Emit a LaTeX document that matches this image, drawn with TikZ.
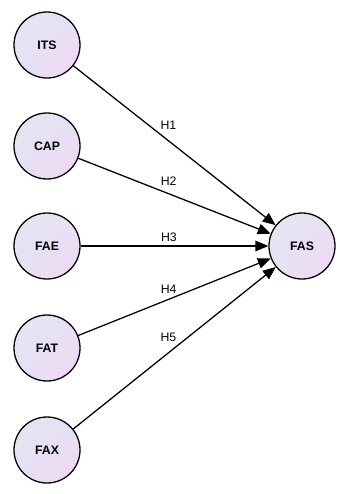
\documentclass[tikz,border=0pt]{standalone}
\usepackage{fontspec}
\setmainfont{Liberation Sans}
\usepackage{tikz}
\usetikzlibrary{positioning, arrows.meta}
\usepackage{xcolor}
\definecolor{circTop}{HTML}{E2E6F2}
\definecolor{circBot}{HTML}{EFD9F5}

\begin{document}
\begin{tikzpicture}[x=0.03cm, y=-0.03cm, font=\fontsize{10.5}{12}\selectfont,
    constructo/.style={circle, draw=black, line width=1.1pt, minimum size=1.98cm,
      inner sep=0pt, top color=circTop, bottom color=circBot, shading angle=45,
      font=\fontsize{10.5}{12}\selectfont\bfseries},
    hip/.style={-{Triangle[length=11pt, width=9pt]}, line width=1.1pt},
    etiq/.style={font=\fontsize{10.5}{12}\selectfont, inner sep=0pt}]
  \useasboundingbox (0,0) rectangle (347,494);
  % Constructos de la izquierda
  \foreach \nombre/\y in {ITS/45, CAP/146, FAE/246, FAT/348, FAX/450} {
    \node[constructo] (\nombre) at (47,\y) {\nombre};
  }
  % Constructo dependiente
  \node[constructo] (FAS) at (302,246) {FAS};
  % Hipotesis H1--H5
  \foreach \nombre/\h/\sep in {ITS/H1/9pt, CAP/H2/6.5pt, FAE/H3/3pt, FAT/H4/4.8pt, FAX/H5/9pt} {
    \draw[hip] (\nombre) -- node[etiq, pos=0.47, above=\sep] {\h} (FAS);
  }
\end{tikzpicture}
\end{document}
